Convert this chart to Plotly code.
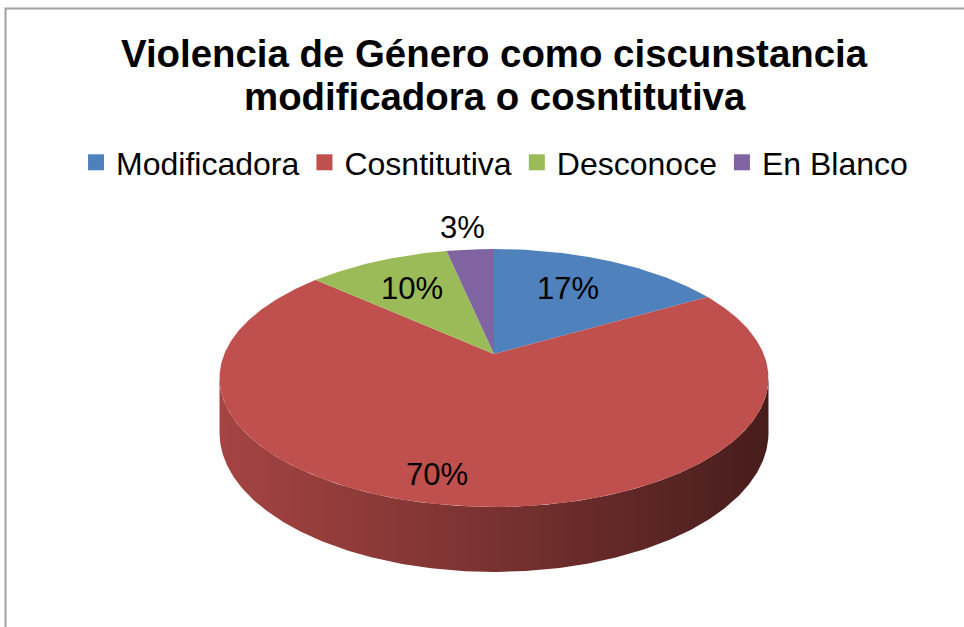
import numpy as np
import plotly.graph_objects as go

# ---------------- data ----------------
categories = ["Modificadora", "Cosntitutiva", "Desconoce", "En Blanco"]
values = [5, 21, 3, 1]
colors = ["#4F81BD", "#C0504D", "#9BBB59", "#8064A2"]

title_line1 = "Violencia de Género como ciscunstancia"
title_line2 = "modificadora o cosntitutiva"

# label anchor positions (pixel space of the figure)
label_pos = [(568, 288), (437, 474), (412, 288), (462, 227)]

# ---------------- geometry (3-D pie in perspective) ----------------
W, H = 964, 627
CX, CY = 494, 354      # projected centre of the top face
A, B = 269.7, 124.5    # horizontal / vertical radii before perspective
K = 0.186              # perspective strength
DEPTH = 52.9           # thickness of the pie


def proj(theta_deg, r=1.0, drop=0.0):
    t = np.radians(theta_deg)
    u = r * np.sin(t)
    v = r * np.cos(t)
    d = 1 + K * v
    return CX + A * u / d, CY - B * v / d + drop / d


def shade(hex_color, f):
    h = hex_color.lstrip("#")
    r, g, b = (int(h[i:i + 2], 16) for i in (0, 2, 4))
    return "rgb(%d,%d,%d)" % (r * f, g * f, b * f)


total = float(sum(values))
fracs = [v / total for v in values]
starts = np.cumsum([0] + fracs[:-1]) * 360.0
ends = np.cumsum(fracs) * 360.0

# visible part of the side wall (front half)
vis_lo = np.degrees(np.arccos(-K))
vis_hi = 360.0 - vis_lo

fig = go.Figure()

# side walls
for cat, c, a0, a1 in zip(categories, colors, starts, ends):
    lo, hi = max(a0, vis_lo), min(a1, vis_hi)
    if hi <= lo:
        continue
    th = np.linspace(lo, hi, int((hi - lo) * 2) + 2)
    xt, yt = proj(th)
    xb, yb = proj(th[::-1], drop=DEPTH)
    xs = np.concatenate([xt, xb, xt[:1]])
    ys = np.concatenate([yt, yb, yt[:1]])
    fig.add_trace(go.Scatter(
        x=xs, y=ys, mode="lines", fill="toself",
        line=dict(width=0, color=c),
        fillgradient=dict(type="horizontal",
                          colorscale=[[0, shade(c, 0.86)], [0.5, shade(c, 0.63)],
                                      [1, shade(c, 0.37)]]),
        hoverinfo="skip", showlegend=False))

# top faces
for cat, c, a0, a1, v in zip(categories, colors, starts, ends, values):
    th = np.linspace(a0, a1, int((a1 - a0) * 2) + 2)
    xa, ya = proj(th)
    xs = np.concatenate([[CX], xa, [CX]])
    ys = np.concatenate([[CY], ya, [CY]])
    fig.add_trace(go.Scatter(
        x=xs, y=ys, mode="lines", fill="toself", fillcolor=c,
        line=dict(width=0, color=c),
        name=cat, hovertemplate=cat + ": %d<extra></extra>" % v,
        showlegend=False))

# legend entries
for cat, c in zip(categories, colors):
    fig.add_trace(go.Scatter(
        x=[None], y=[None], mode="markers", name=cat,
        marker=dict(symbol="square", size=16, color=c)))

# data labels
for (lx, ly), f in zip(label_pos, fracs):
    fig.add_annotation(x=lx, y=ly, xref="x", yref="y",
                       text="%d%%" % round(f * 100), showarrow=False,
                       font=dict(family="Liberation Sans, Arial", size=31, color="black"),
                       xanchor="center", yanchor="middle")

# title (two lines)
fig.add_annotation(x=494, y=53, xref="x", yref="y", text="<b>%s</b>" % title_line1,
                   showarrow=False, xanchor="center", yanchor="middle",
                   font=dict(family="Liberation Sans, Arial", size=38.4, color="black"))
fig.add_annotation(x=495, y=96, xref="x", yref="y", text="<b>%s</b>" % title_line2,
                   showarrow=False, xanchor="center", yanchor="middle",
                   font=dict(family="Liberation Sans, Arial", size=38.4, color="black"))

# chart border
fig.add_shape(type="rect", xref="x", yref="y", x0=5.5, y0=8.5, x1=1100, y1=800,
              line=dict(color="#A0A0A0", width=2), layer="below")

fig.update_layout(
    width=W, height=H,
    margin=dict(l=0, r=0, t=0, b=0),
    paper_bgcolor="white", plot_bgcolor="white",
    xaxis=dict(range=[0, W], visible=False, fixedrange=True),
    yaxis=dict(range=[H, 0], visible=False, fixedrange=True),
    legend=dict(orientation="h", x=0.513, xanchor="center", y=1 - 162.5 / H,
                yanchor="middle", font=dict(family="Liberation Sans, Arial", size=32,
                                            color="black"),
                bgcolor="rgba(0,0,0,0)", itemwidth=30),
    showlegend=True,
)

fig.write_html("out.html",
               config=dict(displayModeBar=False),
               post_script="document.body.style.margin='0px';"
                           "document.body.style.overflow='hidden';")
